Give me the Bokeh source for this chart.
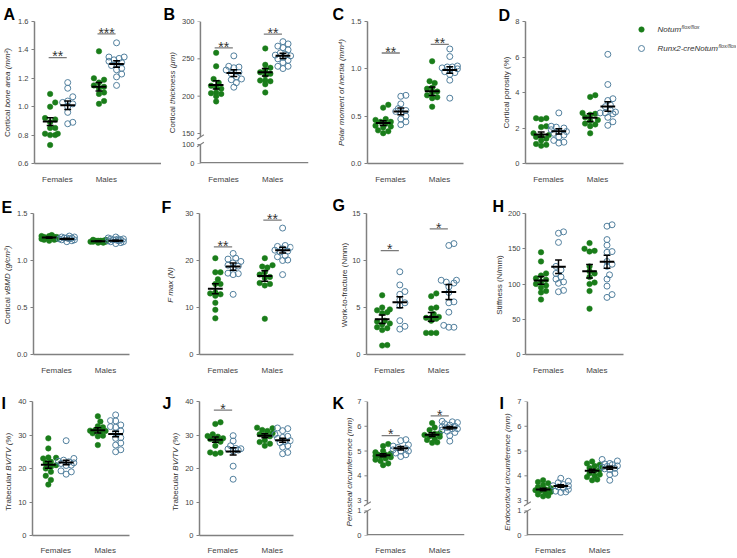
import math
from bokeh.plotting import figure
from bokeh.models import Range1d, FixedTicker
from bokeh.layouts import row, column
from bokeh.embed import file_html
from bokeh.resources import INLINE
from bokeh.core.properties import value

# ---------------- data ----------------
categories = ["Females", "Males"]
genotypes = ["Notum", "Runx2-creNotum"]
genotype_sup = "flox/flox"

A_fem_notum = [1.09, 1.03, 1.00, 0.92, 0.91, 0.89, 0.85, 0.85, 0.81, 0.80, 0.80, 0.81, 0.73]
A_fem_runx2 = [1.17, 1.13, 1.07, 1.04, 1.03, 1.02, 1.00, 0.96, 0.89, 0.88]
A_male_notum = [1.39, 1.20, 1.19, 1.17, 1.15, 1.14, 1.13, 1.10, 1.09, 1.04, 1.02]
A_male_runx2 = [1.45, 1.35, 1.35, 1.34, 1.33, 1.32, 1.31, 1.30, 1.29, 1.27, 1.26, 1.23, 1.21, 1.15]
A_mean = [0.895, 1.01, 1.14, 1.30]
A_sem = [0.028, 0.030, 0.030, 0.023]

B_fem_notum = [258, 240, 223, 218, 214, 212, 210, 205, 204, 203, 200, 193]
B_fem_runx2 = [254, 240, 239, 238, 235, 232, 230, 226, 223, 222, 218, 212]
B_male_notum = [264, 242, 238, 235, 232, 230, 228, 221, 220, 221, 216, 205]
B_male_runx2 = [273, 270, 267, 265, 262, 258, 256, 255, 254, 252, 250, 248, 245, 240, 240, 237]
B_mean = [215, 231, 232, 254]
B_sem = [5.5, 4.5, 5.0, 3.5]

C_fem_notum = [0.59, 0.62, 0.47, 0.46, 0.44, 0.44, 0.42, 0.40, 0.39, 0.38, 0.35, 0.34, 0.32]
C_fem_runx2 = [0.71, 0.72, 0.63, 0.58, 0.56, 0.55, 0.54, 0.50, 0.47, 0.44, 0.41]
C_male_notum = [1.08, 0.85, 0.87, 0.80, 0.79, 0.76, 0.75, 0.72, 0.70, 0.69, 0.60]
C_male_runx2 = [1.21, 1.13, 1.03, 1.02, 1.02, 1.01, 1.00, 0.99, 0.97, 0.96, 0.94, 0.88, 0.69]
C_mean = [0.427, 0.55, 0.764, 0.988]
C_sem = [0.025, 0.035, 0.045, 0.035]

D_fem_notum = [2.55, 2.55, 2.50, 2.10, 2.05, 1.70, 1.60, 1.55, 1.50, 1.40, 1.30, 1.10, 1.05, 1.00]
D_fem_runx2 = [2.85, 2.10, 2.05, 2.00, 1.90, 1.80, 1.80, 1.70, 1.60, 1.50, 1.30, 1.20, 1.15]
D_male_notum = [3.85, 3.75, 2.85, 2.80, 2.75, 2.60, 2.45, 2.40, 2.25, 2.20, 2.10, 1.70]
D_male_runx2 = [6.15, 4.45, 3.65, 3.55, 3.30, 3.20, 3.00, 2.90, 2.85, 2.85, 2.80, 2.60, 2.35, 2.15]
D_mean = [1.63, 1.81, 2.58, 3.21]
D_sem = [0.14, 0.15, 0.22, 0.27]

E_fem_notum = [1.27, 1.26, 1.26, 1.25, 1.25, 1.25, 1.24, 1.24, 1.24, 1.23, 1.23, 1.22, 1.22, 1.21]
E_fem_runx2 = [1.26, 1.25, 1.25, 1.24, 1.24, 1.24, 1.23, 1.23, 1.22, 1.22, 1.21, 1.20]
E_male_notum = [1.22, 1.22, 1.21, 1.21, 1.21, 1.21, 1.20, 1.20, 1.20, 1.20, 1.19, 1.19]
E_male_runx2 = [1.25, 1.24, 1.23, 1.23, 1.23, 1.22, 1.22, 1.22, 1.21, 1.21, 1.20, 1.20, 1.19, 1.18]
E_mean = [1.244, 1.23, 1.205, 1.21]
E_sem = [0.006, 0.006, 0.004, 0.006]

F_fem_notum = [20.5, 17.5, 17.5, 16.0, 15.0, 15.0, 13.2, 13.0, 12.8, 12.5, 11.0, 9.5, 7.7]
F_fem_runx2 = [21.5, 20.5, 20.3, 19.8, 19.5, 19.0, 18.8, 18.5, 17.3, 17.2, 17.0, 12.8]
F_male_notum = [20.5, 19.0, 18.7, 18.5, 17.5, 17.0, 16.5, 16.3, 15.2, 15.0, 14.7, 7.6]
F_male_runx2 = [26.9, 23.2, 23.0, 22.8, 22.5, 22.2, 22.0, 21.8, 21.0, 20.8, 20.1, 20.0, 17.0]
F_mean = [14.0, 18.7, 16.7, 22.2]
F_sem = [1.05, 0.75, 1.1, 0.6]

G_fem_notum = [6.3, 5.0, 4.8, 4.7, 4.5, 4.4, 3.6, 3.5, 3.3, 3.2, 2.9, 2.8, 2.6, 1.0, 0.95]
G_fem_runx2 = [8.8, 7.4, 6.7, 6.4, 5.8, 5.5, 5.2, 3.6, 3.0, 2.7]
G_male_notum = [6.5, 6.2, 5.0, 4.9, 4.3, 4.0, 3.9, 3.9, 3.8, 3.6, 2.3, 2.3, 2.3]
G_male_runx2 = [11.8, 11.6, 7.9, 7.9, 7.7, 7.6, 7.2, 6.6, 5.6, 5.5, 4.5, 3.1, 2.9, 2.9]
G_mean = [3.74, 5.56, 4.0, 6.64]
G_sem = [0.45, 0.58, 0.46, 0.80]

H_fem_notum = [145, 132, 115, 112, 108, 106, 103, 100, 98, 95, 90, 88, 78]
H_fem_runx2 = [174, 172, 159, 125, 120, 115, 110, 107, 103, 101, 91, 89]
H_male_notum = [158, 150, 147, 146, 125, 118, 115, 110, 102, 100, 90, 65]
H_male_runx2 = [184, 182, 163, 155, 146, 145, 132, 128, 125, 113, 107, 97, 85, 81]
H_mean = [105, 124.5, 118, 131.5]
H_sem = [5.5, 9.5, 9.5, 9.3]

I_fem_notum = [29.0, 26.0, 23.3, 23.2, 23.0, 22.0, 21.7, 21.0, 20.5, 20.0, 19.0, 17.8, 16.6, 15.2]
I_fem_runx2 = [28.3, 23.0, 22.5, 22.2, 22.0, 21.7, 21.5, 21.0, 20.9, 19.3, 19.0, 18.3]
I_male_notum = [35.6, 34.0, 32.6, 32.3, 31.5, 31.3, 31.2, 31.0, 30.5, 29.8, 29.6, 27.0]
I_male_runx2 = [36.0, 34.3, 34.2, 33.0, 32.5, 32.3, 31.2, 30.5, 29.2, 29.0, 27.6, 27.0, 25.6, 25.0]
I_mean = [21.1, 21.8, 31.4, 30.3]
I_sem = [1.0, 0.65, 0.8, 0.85]

J_fem_notum = [33.8, 33.3, 30.2, 29.7, 29.5, 29.0, 28.8, 28.5, 28.0, 26.8, 24.8, 24.7, 24.4]
J_fem_runx2 = [29.8, 28.2, 26.8, 26.0, 25.9, 25.8, 25.5, 25.2, 20.7, 16.8]
J_male_notum = [32.2, 32.0, 31.5, 31.2, 30.5, 30.2, 30.0, 29.6, 28.4, 27.9, 27.4, 26.8]
J_male_runx2 = [32.1, 31.9, 31.3, 30.2, 29.6, 29.3, 29.0, 28.3, 28.1, 27.7, 26.8, 26.4, 24.8, 24.4]
J_mean = [28.6, 25.1, 29.8, 28.4]
J_sem = [0.8, 1.1, 0.6, 0.6]

K_fem_notum = [5.28, 5.20, 5.00, 4.95, 4.90, 4.85, 4.85, 4.80, 4.78, 4.75, 4.70, 4.65, 4.60, 4.50, 4.43]
K_fem_runx2 = [5.46, 5.42, 5.25, 5.20, 5.15, 5.10, 5.05, 5.00, 5.00, 4.92, 4.85, 4.78]
K_male_notum = [6.13, 5.95, 5.85, 5.72, 5.70, 5.65, 5.60, 5.58, 5.50, 5.45, 5.35, 5.33]
K_male_runx2 = [6.20, 6.18, 6.15, 6.10, 6.05, 6.00, 5.98, 5.95, 5.90, 5.90, 5.85, 5.80, 5.75, 5.62, 5.40]
K_mean = [4.83, 5.11, 5.66, 5.94]
K_sem = [0.065, 0.07, 0.075, 0.05]

L_fem_notum = [3.82, 3.75, 3.70, 3.62, 3.55, 3.50, 3.45, 3.42, 3.40, 3.35, 3.30, 3.25, 3.20, 3.17]
L_fem_runx2 = [3.90, 3.78, 3.72, 3.65, 3.60, 3.60, 3.55, 3.50, 3.45, 3.38, 3.35, 3.33]
L_male_notum = [4.58, 4.50, 4.45, 4.40, 4.32, 4.25, 4.20, 4.10, 4.05, 4.00, 3.95, 3.85, 3.82]
L_male_runx2 = [4.66, 4.60, 4.50, 4.48, 4.45, 4.40, 4.38, 4.35, 4.30, 4.28, 4.25, 4.10, 4.05, 3.82]
L_mean = [3.45, 3.59, 4.20, 4.33]
L_sem = [0.05, 0.05, 0.07, 0.06]

A_yticks = [0.6, 0.8, 1.0, 1.2, 1.4, 1.6]
B_yticks = [0, 100, 150, 200, 250, 300]
C_yticks = [0.0, 0.5, 1.0, 1.5]
D_yticks = [0, 2, 4, 6, 8]
E_yticks = [0.0, 0.5, 1.0, 1.5]
F_yticks = [0, 10, 20, 30]
G_yticks = [0, 5, 10, 15]
H_yticks = [0, 50, 100, 150, 200]
I_yticks = [0, 10, 20, 30, 40]
J_yticks = [0, 10, 20, 30, 40]
K_yticks = [0, 1, 3, 4, 5, 6, 7]
L_yticks = [0, 1, 3, 4, 5, 6, 7]

# significance: (category 1/2, bar height, stars)
A_sig = [(1, 1.345, "**"), (2, 1.513, "***")]
B_sig = [(1, 264.6, "**"), (2, 283.2, "**")]
C_sig = [(1, 1.167, "**"), (2, 1.258, "**")]
F_sig = [(1, 22.9, "**"), (2, 28.6, "**")]
G_sig = [(1, 11.05, "*"), (2, 13.36, "*")]
J_sig = [(1, 37.4, "*")]
K_sig = [(1, 5.62, "*"), (2, 6.42, "*")]

# ---------------- style ----------------
FONT = "Liberation Sans"
GREEN = "#1a7d1a"
BLUE = "#52809e"
AXIS = "#808080"
TICKTXT = "#444444"
LABTXT = "#333333"
SIGC = "#7a7a7a"
CAT_PX = 50.0
SUB = (-0.15, 0.21)

AW = {' ': 278, '(': 333, ')': 333, '%': 889, '/': 278, '-': 333, '.': 278,
      'a': 556, 'b': 556, 'c': 500, 'd': 556, 'e': 556, 'f': 278, 'g': 556, 'h': 556,
      'i': 222, 'j': 222, 'k': 500, 'l': 222, 'm': 833, 'n': 556, 'o': 556, 'p': 556,
      'q': 556, 'r': 333, 's': 500, 't': 278, 'u': 556, 'v': 500, 'w': 722, 'x': 500,
      'y': 500, 'z': 500, 'A': 667, 'B': 667, 'C': 722, 'D': 722, 'E': 667, 'F': 611,
      'G': 778, 'H': 722, 'I': 278, 'M': 833, 'N': 722, 'P': 667, 'R': 722, 'S': 667,
      'T': 611, 'V': 667, 'W': 944, '²': 333, '³': 333, '⁴': 333, 'μ': 576}


def text_w(s, size):
    return sum(AW.get(c, 556) for c in s) * size / 1000.0


def make_tf(brk):
    if brk is None:
        return lambda v: float(v)
    bmax, tmin, tmax, fb, ft = brk

    def tf(v):
        if v <= bmax:
            return v / bmax * fb
        return ft + (v - tmin) / (tmax - tmin) * (1 - ft)
    return tf


def swarm(ypx, step=2.6, dmin=5.0, cap=8.0):
    n = len(ypx)
    order = sorted(range(n), key=lambda i: ypx[i])
    cands = [0.0]
    k = 1
    while k * step <= cap + 1e-9:
        cands += [k * step, -k * step]
        k += 1
    placed, xs = [], [0.0] * n
    for i in order:
        best, bestc, bestd = None, 0.0, -1.0
        for c in cands:
            dm = min([math.hypot(c - px, ypx[i] - py) for px, py in placed], default=1e9)
            if dm >= dmin:
                best = c
                break
            if dm > bestd:
                bestd, bestc = dm, c
        if best is None:
            best = bestc
        xs[i] = best
        placed.append((best, ypx[i]))
    return xs


PANELS = {
    "A": dict(groups=(A_fem_notum, A_fem_runx2, A_male_notum, A_male_runx2), mean=A_mean, sem=A_sem,
              ticks=A_yticks, dec=1, yr=(0.6, 1.6), brk=None, label=("Cortical ", "bone area (mm²)"), sig=A_sig),
    "B": dict(groups=(B_fem_notum, B_fem_runx2, B_male_notum, B_male_runx2), mean=B_mean, sem=B_sem,
              ticks=B_yticks, dec=0, yr=None, brk=(100, 150, 300, 19 / 142, 30 / 142),
              label=("Cortical ", "thickness (μm)"), sig=B_sig),
    "C": dict(groups=(C_fem_notum, C_fem_runx2, C_male_notum, C_male_runx2), mean=C_mean, sem=C_sem,
              ticks=C_yticks, dec=1, yr=(0, 1.5), brk=None, label=("", "Polar moment of inertia (mm⁴)"), sig=C_sig),
    "D": dict(groups=(D_fem_notum, D_fem_runx2, D_male_notum, D_male_runx2), mean=D_mean, sem=D_sem,
              ticks=D_yticks, dec=0, yr=(0, 8), brk=None, label=("Cortical porosity (%)", ""), sig=[]),
    "E": dict(groups=(E_fem_notum, E_fem_runx2, E_male_notum, E_male_runx2), mean=E_mean, sem=E_sem,
              ticks=E_yticks, dec=1, yr=(0, 1.5), brk=None, label=("Cortical ", "vBMD (g/cm³)"), sig=[]),
    "F": dict(groups=(F_fem_notum, F_fem_runx2, F_male_notum, F_male_runx2), mean=F_mean, sem=F_sem,
              ticks=F_yticks, dec=0, yr=(0, 30), brk=None, label=("", "F max (N)"), sig=F_sig),
    "G": dict(groups=(G_fem_notum, G_fem_runx2, G_male_notum, G_male_runx2), mean=G_mean, sem=G_sem,
              ticks=G_yticks, dec=0, yr=(0, 15), brk=None, label=("Work-to-fracture (Nmm)", ""), sig=G_sig),
    "H": dict(groups=(H_fem_notum, H_fem_runx2, H_male_notum, H_male_runx2), mean=H_mean, sem=H_sem,
              ticks=H_yticks, dec=0, yr=(0, 200), brk=None, label=("Stiffness (N/mm)", ""), sig=[]),
    "I": dict(groups=(I_fem_notum, I_fem_runx2, I_male_notum, I_male_runx2), mean=I_mean, sem=I_sem,
              ticks=I_yticks, dec=0, yr=(0, 40), brk=None, label=("Trabecular ", "BV/TV (%)"), sig=[]),
    "J": dict(groups=(J_fem_notum, J_fem_runx2, J_male_notum, J_male_runx2), mean=J_mean, sem=J_sem,
              ticks=J_yticks, dec=0, yr=(0, 40), brk=None, label=("Trabecular ", "BV/TV (%)"), sig=J_sig),
    "K": dict(groups=(K_fem_notum, K_fem_runx2, K_male_notum, K_male_runx2), mean=K_mean, sem=K_sem,
              ticks=K_yticks, dec=0, yr=None, brk=(1, 3, 7, 26 / 142, 37 / 142),
              label=("", "Periosteal circumference (mm)"), sig=K_sig),
    "L": dict(groups=(L_fem_notum, L_fem_runx2, L_male_notum, L_male_runx2), mean=L_mean, sem=L_sem,
              ticks=L_yticks, dec=0, yr=None, brk=(1, 3, 7, 26 / 142, 37 / 142),
              label=("", "Endocortical circumference (mm)"), sig=[]),
}

# rows: (height, top border, frame height, bottom border); page y of each row
ROWS = [(188, 21, 142, 25), (189, 25, 143, 21), (180, 24, 141, 15)]
ROW_TOP = [0, 188, 377]
# panel: row, panel start x, panel width, axis x, frame width, tick-label border,
#        letter x, letter baseline y, y-title centre x  (page pixels)
LAYOUT = {
    "A": (0, 0, 161, 31, 130, 16, 3, 13.5, 6.5),
    "B": (0, 161, 171, 198, 110, 16, 163, 13.5, 172),
    "C": (0, 332, 165, 365, 98, 17, 332, 14, 341),
    "D": (0, 497, 128, 523, 100, 11, 498, 15, 506),
    "E": (1, 0, 161, 31, 98, 17, 1, 206.5, 6.5),
    "F": (1, 161, 171, 198, 95, 16, 161, 206.5, 169.5),
    "G": (1, 332, 158, 364, 101, 15, 332, 205, 344),
    "H": (1, 490, 135, 522, 101, 18, 492, 206, 498.5),
    "I": (2, 0, 161, 31, 98, 16, 1, 403, 8),
    "J": (2, 161, 171, 198, 95, 16, 162, 403, 175),
    "K": (2, 332, 165, 365, 99, 7, 332, 403, 349),
    "L": (2, 497, 128, 525, 98, 7, 499, 403, 507),
}
LETTER_TEXT = {"L": "I"}  # the reference labels the last panel "I"


def blank(width, height):
    f = figure(width=width, height=height, x_range=Range1d(0, width), y_range=Range1d(0, height),
               output_backend="svg", toolbar_location=None, tools="", title=None,
               min_border=0, x_axis_type=None, y_axis_type=None)
    if "frame_align" in f.properties():
        f.frame_align = False   # keep this canvas' frame = whole figure (no alignment with neighbours)
    f.grid.visible = False
    f.outline_line_color = None
    return f


def build(key):
    spec = PANELS[key]
    ri, pstart, pw, axis_px, fw, lm, let_x, let_base, tcx = LAYOUT[key]
    H, top, fh, bottom = ROWS[ri]
    brk = spec["brk"] is not None
    shift = 4 if brk else 0
    gw = axis_px - pstart - lm - shift
    mw = pw - gw
    fwt = fw + shift
    x_axis = 1 - 23.5 / CAT_PX
    x0 = x_axis - shift / CAT_PX
    x1 = x0 + fwt / CAT_PX
    tf = make_tf(spec["brk"])
    y0, y1 = (0.0, 1.0) if brk else spec["yr"]
    ppu = fh / (y1 - y0)

    # ---- gutter with panel letter and y title
    g = blank(gw, H)
    g.text(x=[let_x - pstart], y=[H - (let_base - ROW_TOP[ri])], text=[LETTER_TEXT.get(key, key)],
           text_font=value(FONT), text_font_size="16px", text_font_style="bold", text_color="black",
           text_align="left", text_baseline="alphabetic")
    normal, ital = spec["label"]
    tx, ty = tcx - pstart, bottom + fh / 2
    if normal and ital:
        w1, w2 = text_w(normal, 8), text_w(ital, 8)
        ys = ty + (w1 - w2) / 2
        g.text(x=[tx], y=[ys], text=[normal], angle=math.pi / 2, text_font=value(FONT), text_font_size="8px",
               text_color=LABTXT, text_align="right", text_baseline="middle")
        g.text(x=[tx], y=[ys], text=[ital], angle=math.pi / 2, text_font=value(FONT), text_font_size="8px",
               text_font_style="italic", text_color=LABTXT, text_align="left", text_baseline="middle")
    else:
        g.text(x=[tx], y=[ty], text=[normal or ital], angle=math.pi / 2, text_font=value(FONT),
               text_font_size="8px", text_font_style="normal" if normal else "italic",
               text_color=LABTXT, text_align="center", text_baseline="middle")

    # ---- main plot
    p = figure(width=mw, height=H, x_range=Range1d(x0, x1), y_range=Range1d(y0, y1),
               output_backend="svg", toolbar_location=None, tools="", title=None,
               min_border_left=lm, min_border_right=mw - lm - fwt,
               min_border_top=top, min_border_bottom=bottom)
    p.outline_line_color = None
    p.grid.visible = False

    xa = p.xaxis[0]
    xa.ticker = FixedTicker(ticks=[1, 2])
    xa.major_label_overrides = {1: categories[0], 2: categories[1]}
    xa.major_tick_line_color = None
    xa.minor_tick_line_color = None
    xa.axis_line_color = AXIS
    xa.axis_line_width = 1.5
    xa.major_label_text_font = FONT
    xa.major_label_text_font_size = "8px"
    xa.major_label_text_color = TICKTXT
    xa.major_label_standoff = 4 if ri == 2 else 5

    ya = p.yaxis[0]
    tv = [tf(v) for v in spec["ticks"]]
    ya.ticker = FixedTicker(ticks=tv)
    ya.major_label_overrides = {t: f"{v:.{spec['dec']}f}" for t, v in zip(tv, spec["ticks"])}
    ya.minor_tick_line_color = None
    ya.major_label_text_font = FONT
    ya.major_label_text_font_size = "7.5px"
    ya.major_label_text_color = TICKTXT
    if not brk:
        ya.major_tick_out = 3
        ya.major_tick_in = 0
        ya.major_tick_line_color = AXIS
        ya.major_tick_line_width = 1
        ya.axis_line_color = AXIS
        ya.axis_line_width = 1.5
        ya.major_label_standoff = 2 if key == "H" else 3
    else:
        # broken axis drawn inside the frame
        ya.axis_line_color = None
        ya.major_tick_line_color = None
        ya.major_tick_out = 0
        ya.major_tick_in = 0
        ya.major_label_standoff = 2
        xa.axis_line_color = None
        bmax, tmin = spec["brk"][0], spec["brk"][1]
        top_end = tf(tmin) - 3.5 / ppu
        bot_end = tf(bmax)
        p.segment(x0=[x_axis, x_axis, x_axis], y0=[y0, top_end, y0 + 0.75 / ppu],
                  x1=[x_axis, x_axis, x1], y1=[bot_end, y1, y0 + 0.75 / ppu],
                  line_color=AXIS, line_width=1.5)
        p.segment(x0=[x_axis - 3 / CAT_PX] * len(tv), y0=tv, x1=[x_axis] * len(tv), y1=tv,
                  line_color=AXIS, line_width=1)
        p.segment(x0=[x_axis - 3.5 / CAT_PX] * 2, y0=[top_end - 2.2 / ppu, bot_end - 2.2 / ppu],
                  x1=[x_axis + 3.5 / CAT_PX] * 2, y1=[top_end + 2.2 / ppu, bot_end + 2.2 / ppu],
                  line_color=AXIS, line_width=1.1)

    # points
    for gi, vals in enumerate(spec["groups"]):
        cat = 1 if gi < 2 else 2
        c = cat + SUB[gi % 2]
        ts = [tf(v) for v in vals]
        offs = swarm([(t - y0) * ppu for t in ts])
        xs = [c + o / CAT_PX for o in offs]
        if gi % 2 == 0:
            p.scatter(xs, ts, size=5.5, fill_color=GREEN, line_color=GREEN, line_width=0.5)
        else:
            p.scatter(xs, ts, size=6, fill_color=None, line_color=BLUE, line_width=1)

    # mean and SEM
    for gi in range(4):
        cat = 1 if gi < 2 else 2
        c = cat + SUB[gi % 2]
        m, s = spec["mean"][gi], spec["sem"][gi]
        tm, tlo, thi = tf(m), tf(m - s), tf(m + s)
        p.segment(x0=[c - 0.15], y0=[tm], x1=[c + 0.15], y1=[tm], line_color="black", line_width=2)
        p.segment(x0=[c, c - 0.07, c - 0.07], y0=[tlo, tlo, thi], x1=[c, c + 0.07, c + 0.07],
                  y1=[thi, tlo, thi], line_color="black", line_width=1.5)

    # significance
    for cat, yv, stars in spec["sig"]:
        tyv = tf(yv)
        p.segment(x0=[cat - 0.18], y0=[tyv], x1=[cat + 0.19], y1=[tyv], line_color=SIGC, line_width=1.3)
        p.text(x=[cat + 0.005], y=[tyv + 1.3 / ppu], text=[stars], text_font=value(FONT),
               text_font_size="14px", text_color=LABTXT, text_align="center",
               text_baseline="alphabetic")
    return [g, p]


def build_legend():
    H = ROWS[0][0]
    lg = blank(111, H)
    rows_y = [H - 29, H - 48]
    lg.scatter([16], [rows_y[0]], size=5.5, fill_color=GREEN, line_color=GREEN, line_width=0.5)
    lg.scatter([16], [rows_y[1]], size=6, fill_color=None, line_color=BLUE, line_width=1)
    for name, yy in zip(genotypes, rows_y):
        lg.text(x=[32], y=[yy], text=[name], text_font=value(FONT), text_font_size="8px",
                text_font_style="italic", text_color=LABTXT, text_baseline="middle", text_align="left")
        lg.text(x=[32 + text_w(name, 8) + 0.5], y=[yy + 3], text=[genotype_sup], text_font=value(FONT),
                text_font_size="5.3px", text_font_style="italic", text_color=LABTXT,
                text_baseline="middle", text_align="left")
    return lg


parts = {k: build(k) for k in PANELS}
layout = column(
    row(*parts["A"], *parts["B"], *parts["C"], *parts["D"], build_legend()),
    row(*parts["E"], *parts["F"], *parts["G"], *parts["H"]),
    row(*parts["I"], *parts["J"], *parts["K"], *parts["L"]),
)

open("out.html", "w").write(file_html(layout, INLINE))
